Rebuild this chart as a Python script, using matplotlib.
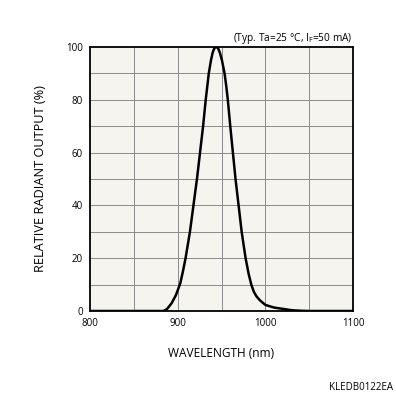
import matplotlib
matplotlib.use("Agg")
import matplotlib.pyplot as plt

plt.rcParams['font.family'] = ['Open Sans', 'DejaVu Sans']
plt.rcParams['mathtext.fontset'] = 'custom'
plt.rcParams['mathtext.rm'] = 'Open Sans'

wavelength = [800, 880, 884, 888, 893, 898, 903, 906, 909, 914, 918, 922, 925.5,
              929, 932, 935.5, 938, 940, 942, 944, 946, 948, 950.5, 953.5, 955.5,
              957.2, 960, 963, 966, 969.5, 973, 977.5, 981, 984, 987, 990, 994,
              1000, 1010, 1020, 1030, 1040, 1050, 1100]
output = [0, 0, 0, 0.8, 2.9, 6, 10.5, 15, 20, 30, 40, 50, 60,
          70, 80, 90, 95, 98, 99.6, 100, 99.6, 98, 95, 90, 85,
          80, 70, 60, 50, 40, 30, 20, 14, 10, 7.2, 5.5, 4,
          2.3, 1.3, 0.8, 0.3, 0.1, 0, 0]

x_ticks = [800, 900, 1000, 1100]
y_ticks = [0, 20, 40, 60, 80, 100]

fig = plt.figure(figsize=(3.96, 3.96), dpi=100)
ax = fig.add_axes([90/396, 1 - 311/396, 263/396, 264/396])
ax.set_facecolor('#f6f4ee')
ax.set_xlim(800, 1100)
ax.set_ylim(0, 100)

for gx in range(850, 1100, 50):
    ax.axvline(gx, color='#8a8a8a', lw=0.7, zorder=1)
for gy in range(10, 100, 10):
    ax.axhline(gy, color='#8a8a8a', lw=0.7, zorder=1)

ax.plot(wavelength, output, color='black', lw=1.8, zorder=3,
        solid_joinstyle='round', solid_capstyle='round')

ax.set_xticks(x_ticks)
ax.set_yticks(y_ticks)
ax.tick_params(length=0, labelsize=7, pad=5, colors='black')
for s in ax.spines.values():
    s.set_linewidth(1.3)
    s.set_zorder(4)

ax.set_xlabel('WAVELENGTH (nm)', fontsize=8.6, labelpad=13)
ax.set_ylabel('RELATIVE RADIANT OUTPUT (%)', fontsize=9.2, labelpad=14)

fig.text(353/396, 1 - 38/396, r'(Typ. Ta=25 °C, I$_\mathregular{F}$=50 mA)',
         ha='right', va='center', fontsize=7.3)
fig.text(393/396, 1 - 387/396, 'KLEDB0122EA', ha='right', va='center', fontsize=7)

fig.savefig('out.png', dpi=100)
